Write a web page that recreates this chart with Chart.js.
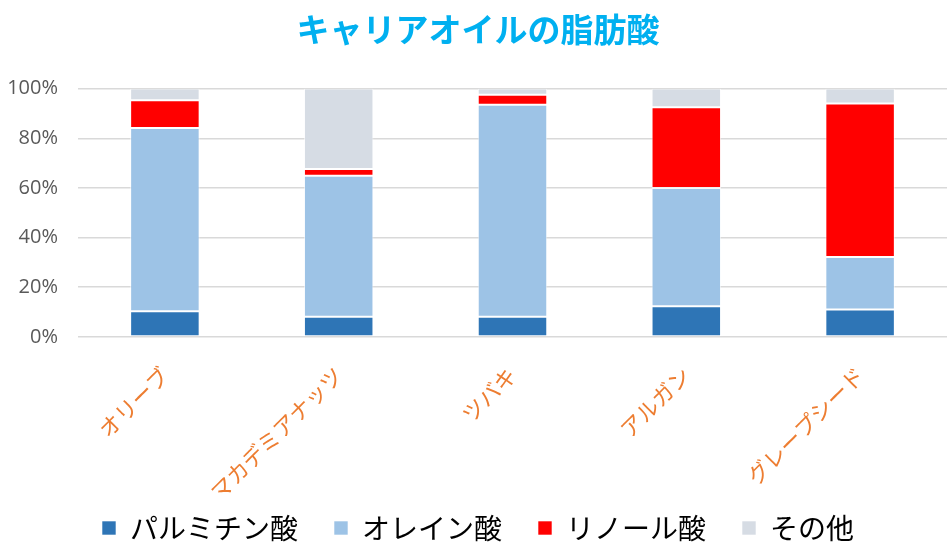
<!DOCTYPE html>
<html>
<head>
<meta charset="utf-8">
<script src="https://cdn.jsdelivr.net/npm/chart.js@4"></script>
<style>
  html, body { margin: 0; padding: 0; background: #fff; }
  #wrap { width: 947px; height: 560px; }
</style>
</head>
<body>
<div id="wrap"><canvas id="fatChart"></canvas></div>
<script>
// オイルごとの脂肪酸組成 (%)
const oils = ['オリーブ', 'マカデミアナッツ', 'ツバキ', 'アルガン', 'グレープシード'];
const palmitic = [10.3, 8.1, 8.1, 12.3, 11.0];
const oleic = [73.8, 56.8, 85.4, 47.7, 21.2];
const linoleic = [11.2, 2.7, 4.0, 32.5, 61.8];
const others = [4.7, 32.4, 2.5, 7.5, 6.0];
const yTicks = [0, 20, 40, 60, 80, 100];

const jpFont = '"Noto Sans CJK JP", "Noto Sans", sans-serif';

function makeSet(label, data, color) {
    return {
        label: label,
        data: data,
        backgroundColor: color,
        borderColor: 'rgba(255,255,255,0.6)',
        borderWidth: 1,
        borderSkipped: false,
        barPercentage: 0.4,
        categoryPercentage: 1.0
    };
}

// the x labels are allowed to hang into the legend's empty top padding,
// so widen the label clip box after layout
const labelOverflow = {
    id: 'labelOverflow',
    afterLayout(chart) {
        chart.scales.x.bottom += 50;
    }
};

new Chart(document.getElementById('fatChart'), {
    type: 'bar',
    data: {
        labels: oils,
        datasets: [
            makeSet('パルミチン酸', palmitic, '#2E75B6'),
            makeSet('オレイン酸', oleic, '#9DC3E6'),
            makeSet('リノール酸', linoleic, '#FF0000'),
            makeSet('その他', others, '#D6DCE4')
        ]
    },
    plugins: [labelOverflow],
    options: {
        responsive: true,
        maintainAspectRatio: false,
        animation: false,
        layout: { padding: { left: 9, right: 0, top: 4, bottom: 8 } },
        scales: {
            x: {
                stacked: true,
                grid: { display: false },
                border: { display: false },
                ticks: {
                    color: '#ED7D31',
                    font: { family: jpFont, size: 22 },
                    minRotation: 45,
                    maxRotation: 45,
                    padding: 17
                },
                afterFit: s => { s.height = s.height - 44; }
            },
            y: {
                stacked: true,
                min: 0,
                max: 100,
                afterBuildTicks: axis => {
                    axis.ticks = yTicks.map(v => ({ value: v }));
                },
                afterFit: s => { s.width = 69; },
                grid: { color: '#D9D9D9', lineWidth: 1.5, drawTicks: false },
                border: { display: false },
                ticks: {
                    color: '#595959',
                    font: { family: '"Open Sans", "DejaVu Sans", sans-serif', size: 20 },
                    padding: 20,
                    callback: v => v + '%'
                }
            }
        },
        plugins: {
            title: {
                display: true,
                text: 'キャリアオイルの脂肪酸',
                color: '#00B0F0',
                font: { family: jpFont, size: 33, weight: 'bold' },
                padding: { top: 6, bottom: 39 }
            },
            legend: {
                position: 'bottom',
                labels: {
                    color: '#000',
                    font: { family: jpFont, size: 28 },
                    boxWidth: 14,
                    boxHeight: 14,
                    padding: 36
                }
            },
            tooltip: { enabled: false }
        }
    }
});
</script>
</body>
</html>
